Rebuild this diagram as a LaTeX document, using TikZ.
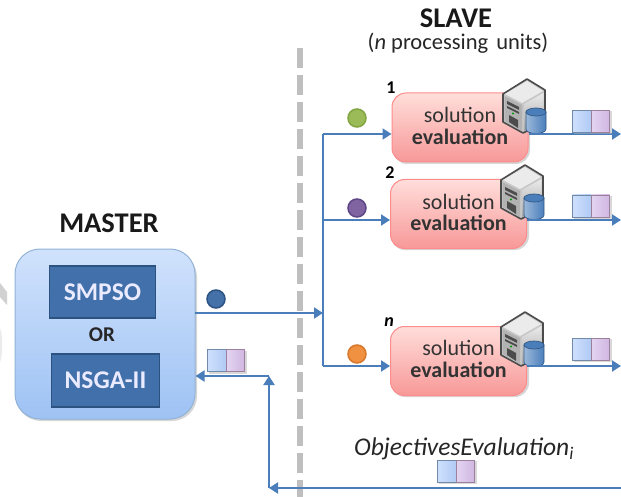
\documentclass[tikz,border=0pt]{standalone}
\usepackage{fontspec}
\setmainfont{Carlito}
\usetikzlibrary{arrows.meta,calc}
\definecolor{flow}{RGB}{74,126,187}
\definecolor{darkblue}{RGB}{66,112,170}
\definecolor{darkedge}{RGB}{44,82,130}
\definecolor{mastertop}{RGB}{208,226,252}
\definecolor{masterbot}{RGB}{158,194,244}
\definecolor{redtop}{RGB}{255,222,218}
\definecolor{redbot}{RGB}{247,152,152}
\definecolor{pairbl}{RGB}{206,224,252}
\definecolor{pairbr}{RGB}{176,202,244}
\definecolor{pairvl}{RGB}{226,212,240}
\definecolor{pairvr}{RGB}{208,182,226}
\definecolor{dotgreen}{RGB}{155,187,89}
\definecolor{dotgreenedge}{RGB}{130,165,65}
\definecolor{dotpurple}{RGB}{128,100,162}
\definecolor{dotpurpleedge}{RGB}{95,70,135}
\definecolor{dotorange}{RGB}{240,145,65}
\definecolor{dotorangeedge}{RGB}{215,120,45}
\tikzset{
  flowline/.style={draw=flow,line width=2pt},
  flowarrow/.style={flowline,-{Triangle[length=9pt,width=11pt]}},
  masterbox/.style={rounded corners=25pt,draw=flow!60,line width=1pt,top color=mastertop,bottom color=masterbot,minimum width=180pt,minimum height=170pt,inner sep=0pt},
  algobox/.style={fill=darkblue,draw=darkedge,line width=1.5pt,text=white!92!blue,font=\bfseries\fontsize{25.5}{25.5}\selectfont,inner sep=0pt},
  evalbox/.style={rounded corners=14pt,draw=red!45!white,line width=1pt,top color=redtop,bottom color=redbot,minimum width=136pt,minimum height=69pt,inner sep=0pt},
  evaltext/.style={inner sep=0pt,align=center,text=black!80,font=\fontsize{22}{21.5}\selectfont},
  boxshadow/.style={fill=black!35,opacity=.45},
  sample/.style={circle,minimum size=18pt,inner sep=0pt,line width=1.5pt},
  heading/.style={font=\bfseries\fontsize{28.5}{28.5}\selectfont,text=black!90},
  counter/.style={font=\bfseries\fontsize{18}{18}\selectfont,text=black},
  pairleft/.style={left color=pairbl,right color=pairbr,draw=flow!70!black!70,line width=.8pt,minimum width=19pt,minimum height=22pt,inner sep=0pt},
  pairright/.style={left color=pairvl,right color=pairvr,draw=violet!45!black!50,line width=.8pt,minimum width=18pt,minimum height=22pt,inner sep=0pt},
}
\newcommand{\objpair}[3]{%
  \fill[black!30,opacity=.5] (#2-18,#3-10) rectangle (#2+20,#3+13);
  \node[pairleft]  (#1l) at (#2-9.5,#3) {};
  \node[pairright] (#1r) at (#2+9,#3) {};}
\newcommand{\serverat}[2]{%
  \begin{scope}[shift={(#1,#2)}]
    \draw[black!70,line width=1.6pt,fill=black!22,line join=round] (0,10) -- (24,-5) -- (42,6) -- (42,38) -- (20,49) -- (0,38) -- cycle;
    \fill[white!92!black] (2,10) -- (24,-3) -- (40,7) -- (19,19) -- cycle;
    \fill[black!30] (1.5,12) -- (19,21) -- (19,47) -- (1.5,37) -- cycle;
    \fill[black!70] (4,17) -- (16,23) -- (16,26) -- (4,20) -- cycle;
    \fill[black!70] (4,22) -- (16,28) -- (16,30) -- (4,24) -- cycle;
    \fill[black!70] (6,31) -- (15,36) -- (15,44) -- (6,38) -- cycle;
    \fill[green!60!black] (10,29.5) circle (1.2pt);
    \shade[top color=black!8,bottom color=black!35] (21,20) -- (40.5,9) -- (40.5,37) -- (21,47) -- cycle;
    \draw[flow!70!black,line width=.7pt,left color=flow!55!white,right color=flow] (23,28) -- (23,45) .. controls (23,51) and (43,51) .. (43,45) -- (43,28) -- cycle;
    \draw[flow!70!black,line width=.7pt,fill=flow] (33,28) ellipse[x radius=10,y radius=4];
  \end{scope}}
\begin{document}
\begin{tikzpicture}[x=1pt,y=-1pt]
\useasboundingbox (0,0) rectangle (621,497);
\fill[white] (0,0) rectangle (621,497);
% faint marks at the left edge
\fill[black!18] (0,283) -- (7,292) -- (7,305) -- (0,297) -- cycle;
\fill[black!8] (0,328) .. controls (3,336) and (3,352) .. (0,363) -- cycle;
% separator
\draw[black!25,line width=5.5pt,dash pattern=on 20pt off 7pt] (300,48) -- (300,497);

% master
\fill[boxshadow,rounded corners=25pt] (16,252) rectangle (197,421);
\node[masterbox] (master) at (105,334) {};
\node[algobox,minimum width=106pt,minimum height=52pt] (smpso) at (102.5,292) {SMPSO};
\node[algobox,minimum width=108pt,minimum height=53pt] (nsga) at (105.5,380.5) {NSGA-II};
\node[font=\bfseries\fontsize{21}{21}\selectfont,text=black!85] (ortext) at (102,335) {OR};
\node[heading] (mastertitle) at (109,223) {MASTER};

% slave heading
\node[heading] (slavetitle) at (456,18) {SLAVE};
\node[font=\fontsize{22.5}{22.5}\selectfont,text=black!85] (slavesub) at (458,43) {(\textit{n} processing\hspace{3pt} units)};

% evaluation boxes
\fill[boxshadow,rounded corners=14pt] (393,96) rectangle (530,164);
\fill[boxshadow,rounded corners=14pt] (391,183) rectangle (529,250);
\fill[boxshadow,rounded corners=14pt] (391,330) rectangle (529,397);
\node[evalbox] (evalA) at (460,127.5) {};
\node[evalbox] (evalB) at (458.5,214) {};
\node[evalbox] (evalN) at (458.5,361) {};
\node[evaltext] (textA) at ($(evalA)+(0,-1.5)$) {solution\\\textbf{evaluation}};
\node[evaltext] (textB) at ($(evalB)+(0,-1.5)$) {solution\\\textbf{evaluation}};
\node[evaltext] (textN) at ($(evalN)+(0,-2)$) {solution\\\textbf{evaluation}};
\node[counter] (numA) at (391,88) {1};
\node[counter] (numB) at (390,173) {2};
\node[counter] (numN) at (389,322) {\textit{n}};
\serverat{503}{84}
\serverat{501}{170}
\serverat{501}{317}

% junctions and free ends
\coordinate (trunkTop) at (323,134);
\coordinate (trunkMid) at (323,220);
\coordinate (trunkIn) at (323,313);
\coordinate (trunkBot) at (323,366);
\coordinate (outA) at (621,134);
\coordinate (outB) at (621,220);
\coordinate (outN) at (621,366);
\coordinate (bottomEnd) at (621,488);
\coordinate (corner) at (269,488);
\coordinate (cornerUp) at (269,376);

% flows
\draw[flowarrow] (195,313) -- (trunkIn);
\draw[flowline] (trunkBot) -- (trunkTop);
\draw[flowarrow] (trunkTop) -- (evalA.west |- trunkTop);
\draw[flowarrow] (trunkMid) -- (evalB.west |- trunkMid);
\draw[flowarrow] (trunkBot) -- (evalN.west |- trunkBot);
\draw[flowarrow] (evalA.east |- outA) -- (outA);
\draw[flowarrow] (evalB.east |- outB) -- (outB);
\draw[flowarrow] (evalN.east |- outN) -- (outN);
\draw[flowarrow] (bottomEnd) -- (corner);
\draw[flowarrow] (corner) -- (cornerUp);
\draw[flowarrow] (cornerUp) -- (master.east |- cornerUp);

% samples
\node[sample,fill=flow!90!black,draw=darkedge] (dotM) at (216,299) {};
\node[sample,fill=dotgreen,draw=dotgreenedge] (dotA) at (357,118) {};
\node[sample,fill=dotpurple,draw=dotpurpleedge] (dotB) at (357,208) {};
\node[sample,fill=dotorange,draw=dotorangeedge] (dotN) at (357,354) {};

% result pairs
\objpair{pairM}{226.5}{360.5}
\objpair{pairA}{591.5}{121.5}
\objpair{pairB}{591.5}{206}
\objpair{pairN}{591.5}{349}
\objpair{pairO}{456.5}{471}

\node[font=\itshape\fontsize{25.5}{25.5}\selectfont,text=black!85] (objlabel) at (464,449) {ObjectivesEvaluation\textsubscript{\textit{i}}};
\end{tikzpicture}
\end{document}
